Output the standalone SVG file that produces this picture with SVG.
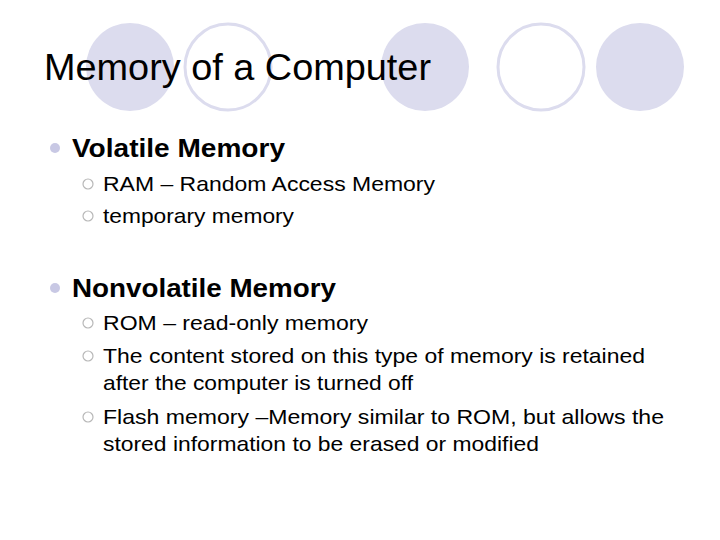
<svg xmlns="http://www.w3.org/2000/svg" width="720" height="540" viewBox="0 0 720 540">
<style>
.f{fill:#dcdcee}.o{fill:none;stroke:#dcdcee;stroke-width:3}
text{font-family:"Liberation Sans",Arial,sans-serif;fill:#000}
.h{font-size:25px;font-weight:bold}.s{font-size:21px}
.b2{fill:none;stroke:#b8b8b8;stroke-width:1.2}
</style>
<rect width="720" height="540" fill="#fff"/>
<g id="deco">
<circle class="f" cx="130" cy="67" r="44"/>
<circle class="o" cx="228" cy="67" r="43"/>
<circle class="f" cx="425" cy="67" r="44"/>
<circle class="o" cx="541" cy="67" r="43"/>
<circle class="f" cx="640" cy="67" r="44"/>
</g>
<text x="44" y="80" font-size="36" textLength="387" lengthAdjust="spacingAndGlyphs">Memory of a Computer</text>
<circle cx="55" cy="148" r="5" fill="#c8c8e4"/>
<text class="h" x="72" y="157" textLength="213" lengthAdjust="spacingAndGlyphs">Volatile Memory</text>
<circle class="b2" cx="88" cy="184" r="5"/>
<text class="s" x="103" y="191" textLength="332" lengthAdjust="spacingAndGlyphs">RAM – Random Access Memory</text>
<circle class="b2" cx="88" cy="216" r="5"/>
<text class="s" x="103" y="223" textLength="191" lengthAdjust="spacingAndGlyphs">temporary memory</text>
<circle cx="55" cy="288" r="5" fill="#c8c8e4"/>
<text class="h" x="72" y="297" textLength="264" lengthAdjust="spacingAndGlyphs">Nonvolatile Memory</text>
<circle class="b2" cx="88" cy="323" r="5"/>
<text class="s" x="103" y="330" textLength="265" lengthAdjust="spacingAndGlyphs">ROM – read-only memory</text>
<circle class="b2" cx="88" cy="356" r="5"/>
<text class="s" x="103" y="363" textLength="542" lengthAdjust="spacingAndGlyphs">The content stored on this type of memory is retained</text>
<text class="s" x="103" y="390" textLength="310" lengthAdjust="spacingAndGlyphs">after the computer is turned off</text>
<circle class="b2" cx="88" cy="417" r="5"/>
<text class="s" x="103" y="424" textLength="561" lengthAdjust="spacingAndGlyphs">Flash memory –Memory similar to ROM, but allows the</text>
<text class="s" x="103" y="451" textLength="436" lengthAdjust="spacingAndGlyphs">stored information to be erased or modified</text>
</svg>
